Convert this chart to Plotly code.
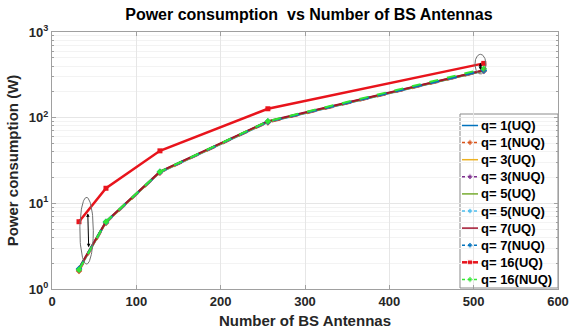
import numpy as np
import plotly.graph_objects as go

antennas = [32, 64, 128, 256, 512]

q1_uq = [1.70, 6.0, 23.0, 89, 352]
q1_nuq = [1.62, 5.9, 22.8, 88, 350]
q3_uq = [1.72, 6.0, 23.2, 90, 355]
q3_nuq = [1.68, 6.0, 23.1, 89, 353]
q5_uq = [1.73, 6.1, 23.3, 90, 356]
q5_nuq = [1.70, 6.0, 23.2, 90, 355]
q7_uq = [1.75, 6.1, 23.4, 91, 358]
q7_nuq = [1.72, 6.1, 23.3, 90, 357]
q16_uq = [6.1, 15.0, 41.0, 127, 430]
q16_nuq = [1.68, 6.1, 23.4, 91, 372]

series = [
    ("q= 1(UQ)", q1_uq, "#0072BD", "solid", None),
    ("q= 1(NUQ)", q1_nuq, "#D95319", "dash", "diamond"),
    ("q= 3(UQ)", q3_uq, "#EDB120", "solid", None),
    ("q= 3(NUQ)", q3_nuq, "#7E2F8E", "dash", "diamond"),
    ("q= 5(UQ)", q5_uq, "#77AC30", "solid", None),
    ("q= 5(NUQ)", q5_nuq, "#4DBEEE", "dash", "diamond"),
    ("q= 7(UQ)", q7_uq, "#A2142F", "solid", None),
    ("q= 7(NUQ)", q7_nuq, "#0072BD", "dash", "diamond"),
    ("q= 16(UQ)", q16_uq, "#E8141C", "solid", "square"),
    ("q= 16(NUQ)", q16_nuq, "#33E633", "dash", "diamond"),
]

W, H = 570, 329
ML, MR, MT, MB = 52, 12, 32, 40
PW, PH = W - ML - MR, H - MT - MB


def fx(px):
    return (px - ML) / PW


def fy(py):
    return (H - MB - py) / PH


fig = go.Figure()
for name, vals, color, dash, sym in series:
    width = 2.5 if "16(UQ)" in name else 2
    fig.add_trace(go.Scatter(
        x=antennas, y=vals, name=name,
        mode="lines+markers" if sym else "lines",
        line=dict(color=color, width=width, dash=dash),
        marker=dict(symbol=sym or "circle", size=5, color=color),
        showlegend=False,
    ))

# highlight ellipses (log-space on y)
ellipses = [(41, 8, 0.68, 0.39), (508, 6.5, 2.625, 0.115)]
t = np.linspace(0, 2 * np.pi, 80)
for cx, rx, cy, ry in ellipses:
    fig.add_trace(go.Scatter(
        x=cx + rx * np.cos(t), y=10 ** (cy + ry * np.sin(t)),
        mode="lines", line=dict(color="#707070", width=1),
        showlegend=False, hoverinfo="skip",
    ))

arrows = [((42.4, 0.9), (43.5, 0.488)), ((508, 2.66), (508, 2.555))]
for (x0, y0), (x1, y1) in arrows:
    fig.add_annotation(
        x=x1, y=y1, ax=x0, ay=y0, xref="x", yref="y", axref="x", ayref="y",
        text="", showarrow=True, arrowhead=2, arrowside="end+start",
        arrowsize=0.7, arrowwidth=1, arrowcolor="black",
    )

# custom legend (MATLAB-like compact box)
fig.add_shape(type="rect", xref="paper", yref="paper",
              x0=fx(460), x1=fx(558), y0=fy(288), y1=fy(114),
              fillcolor="white", line=dict(color="#8a8a8a", width=1),
              layer="between")
for i, (name, vals, color, dash, sym) in enumerate(series):
    yc = fy(125.5 + 17.1 * i)
    width = 2.5 if "16(UQ)" in name else 1.5
    fig.add_trace(go.Scatter(
        x=[fx(462), fx(470), fx(478)], y=[yc, yc, yc],
        xaxis="x2", yaxis="y2",
        mode="lines+markers" if sym else "lines",
        line=dict(color=color, width=width, dash="dot" if dash == "dash" else "solid"),
        marker=dict(symbol=sym or "circle", size=[0, 5, 0], color=color),
        showlegend=False, hoverinfo="skip",
    ))
    fig.add_annotation(
        x=fx(479), y=yc, xref="paper", yref="paper", xanchor="left",
        yanchor="middle", text=f"<b>{name}</b>", showarrow=False,
        font=dict(size=13, color="black"),
    )

font_family = "Liberation Sans, Arial, sans-serif"
fig.update_layout(
    width=W, height=H,
    margin=dict(l=ML, r=MR, t=MT, b=MB),
    paper_bgcolor="white", plot_bgcolor="white",
    font=dict(family=font_family, color="#262626"),
    title=dict(text="<b>Power consumption  vs Number of BS Antennas</b>",
               x=0.542, xanchor="center", y=0.955, yanchor="middle",
               font=dict(size=16, color="black")),
    showlegend=False,
    xaxis2=dict(overlaying="x", range=[0, 1], visible=False, fixedrange=True),
    yaxis2=dict(overlaying="y", range=[0, 1], visible=False, fixedrange=True),
)
fig.layout.xaxis.update(
    range=[0, 600], tickvals=[0, 100, 200, 300, 400, 500, 600],
    automargin=False,
    showgrid=True, gridcolor="#e6e6e6", showline=True, linecolor="#a0a0a0",
    mirror="ticks", ticks="inside", ticklen=4, tickcolor="#a0a0a0",
    zeroline=False,
    tickfont=dict(size=13, color="#262626", weight="bold"),
    title=dict(text="<b>Number of BS Antennas</b>", standoff=7,
               font=dict(size=15, color="#262626")),
)
fig.layout.yaxis.update(
    type="log", range=[0, 3], automargin=False,
    tickvals=[1, 10, 100, 1000],
    ticktext=["10<sup>0</sup>", "10<sup>1</sup>", "10<sup>2</sup>", "10<sup>3</sup>"],
    showgrid=True, gridcolor="#e6e6e6", showline=True, linecolor="#a0a0a0",
    mirror="ticks", ticks="inside", ticklen=4, tickcolor="#a0a0a0",
    zeroline=False,
    minor=dict(tickvals=[m * 10 ** e for e in range(3) for m in range(2, 10)],
               ticks="inside", ticklen=2, tickcolor="#a0a0a0",
               showgrid=True, gridcolor="#f3f3f3"),
    tickfont=dict(size=13, color="#262626", weight="bold"),
    title=dict(text="<b>Power consumption (W)</b>", standoff=6,
               font=dict(size=15, color="#262626")),
)

fig.write_html("out.html")
